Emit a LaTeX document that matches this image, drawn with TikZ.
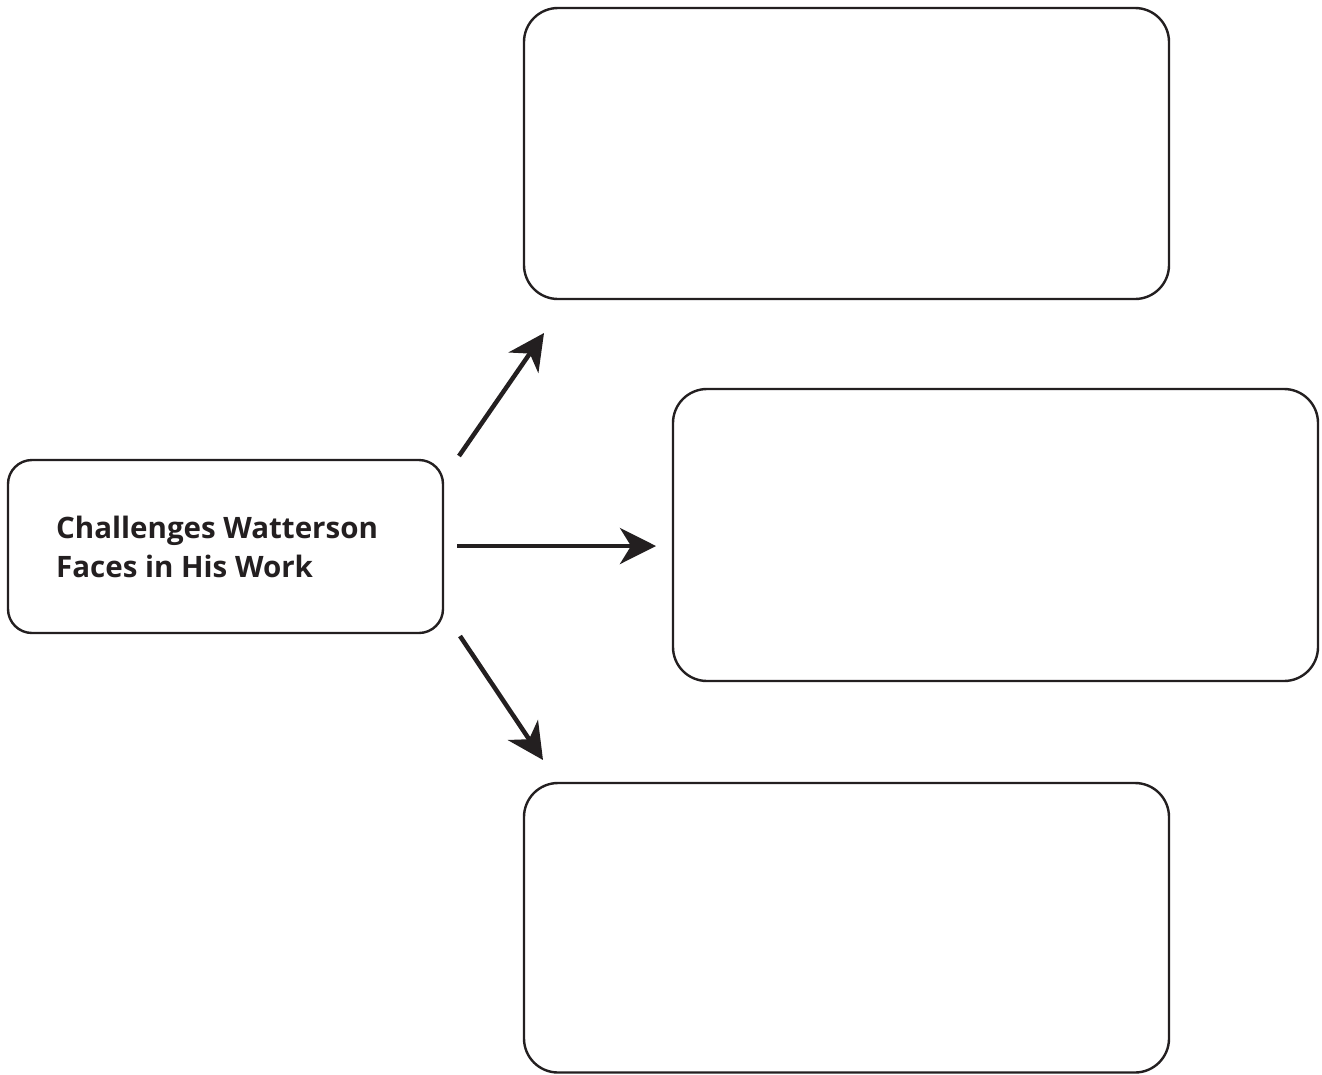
\documentclass[tikz,border=0pt]{standalone}
\usepackage{fontspec}
\setmainfont{Open Sans}
\usetikzlibrary{arrows.meta}
\definecolor{ink}{HTML}{231F20}
\begin{document}
\begin{tikzpicture}[x=1pt,y=-1pt,
  bigbox/.style={draw=ink,line width=2.4pt,rounded corners=34pt},
  smallbox/.style={draw=ink,line width=2.4pt,rounded corners=24pt},
  arr/.style={draw=ink,line width=4.5pt,-{Stealth[length=36pt,width=36pt,inset=11pt]}}
]
\useasboundingbox (0,0) rectangle (1322,1074);
\fill[white] (0,0) rectangle (1322,1074);
% boxes
\path[bigbox] (524,8) rectangle (1169,299);
\node[inner sep=0,minimum width=645pt,minimum height=291pt] (top) at (846.5,153.5) {};
\path[bigbox] (673,389) rectangle (1318,681);
\node[inner sep=0,minimum width=645pt,minimum height=292pt] (mid) at (995.5,535) {};
\path[bigbox] (524,783) rectangle (1169,1072.5);
\node[inner sep=0,minimum width=645pt,minimum height=289pt] (bot) at (846.5,927.5) {};
\path[smallbox] (8,460) rectangle (443,633);
\node[inner sep=0,minimum width=435pt,minimum height=173pt] (src) at (225.5,546.5) {};
\node[anchor=base west,inner sep=0,text=ink,font=\fontsize{29.5}{39}\selectfont\bfseries,align=left] (lbl) at (56,577) {Challenges Watterson\\Faces in His Work};
% arrow endpoints
\coordinate (u1) at (459,456); \coordinate (u2) at (544,333);
\coordinate (m1) at (457,546); \coordinate (m2) at (656,546);
\coordinate (d1) at (460,636); \coordinate (d2) at (543,760);
\draw[arr] (u1) -- (u2);
\draw[arr] (m1) -- (m2);
\draw[arr] (d1) -- (d2);
\end{tikzpicture}
\end{document}
